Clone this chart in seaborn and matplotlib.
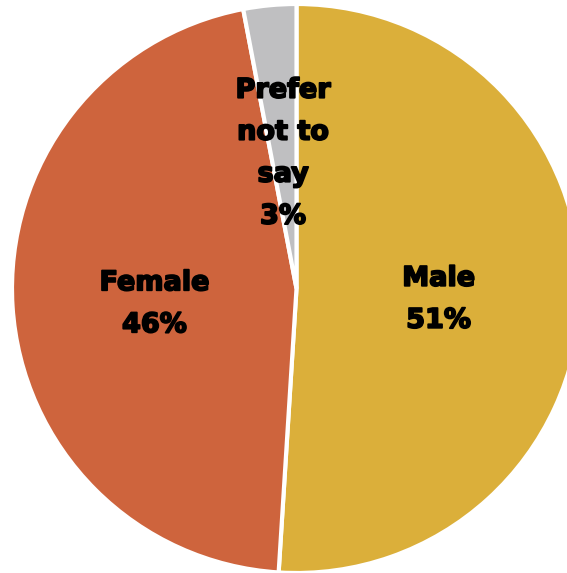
import matplotlib
matplotlib.use("Agg")
import matplotlib.pyplot as plt
import matplotlib.patheffects as pe
import seaborn as sns

categories = ["Male", "Female", "Prefer\nnot to\nsay"]
values = [51, 46, 3]
colors = ["#DBAF3A", "#CE643D", "#BFBFC1"]

sns.set_style("white")
plt.rcParams['font.family'] = ['DejaVu Sans']
palette = sns.color_palette(colors)

fig = plt.figure(figsize=(5.67, 5.73), dpi=100)
ax = fig.add_axes([12/567, 0/573, 569/567, 569/573])

labels_iter = iter(categories)
def fmt(p):
    return f"{next(labels_iter)}\n{p:.0f}%"

wedges, texts, autotexts = ax.pie(
    values, colors=palette, startangle=90, counterclock=False,
    autopct=fmt, pctdistance=0.5, radius=1,
    wedgeprops=dict(edgecolor="white", linewidth=3),
    textprops=dict(fontsize=19.5, fontweight="heavy", color="black", linespacing=1.8,
                   path_effects=[pe.withStroke(linewidth=1.3, foreground="black")]),
)
for t in autotexts:
    x, y = t.get_position()
    t.set_position((x, y - 0.024))
ax.set_xlim(-1, 1)
ax.set_ylim(-1, 1)
ax.set_aspect("equal")
ax.axis("off")
fig.savefig("out.png", dpi=100)
